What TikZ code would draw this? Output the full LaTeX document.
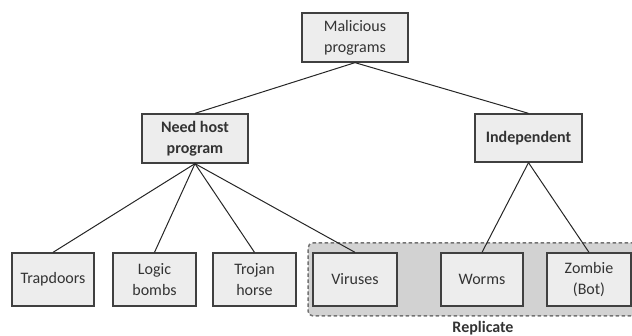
\documentclass[tikz,border=0pt]{standalone}
\usepackage{fontspec}
\setmainfont{Carlito}
\begin{document}
\begin{tikzpicture}[x=1pt,y=-1pt,
  box/.style={draw=black!75, fill=gray!14, line width=1.3pt, align=center, inner sep=1pt,
    font=\fontsize{16}{21}\selectfont, text=black!80},
  link/.style={draw=black!85, line width=1pt},
  region/.style={draw=black!55, fill=gray!35, dashed, dash pattern=on 3.5pt off 2.5pt, line width=1.5pt, rounded corners=5pt}]
\useasboundingbox (0,0) rectangle (632,336);
\node[region, minimum width=337pt, minimum height=73pt] (rep) at (476.5,279.5) {};
\node[box, minimum width=106pt, minimum height=49pt] (mal) at (355,37.5) {Malicious\\programs};
\node[box, minimum width=106pt, minimum height=49pt, font=\fontsize{16}{21}\selectfont\bfseries] (need) at (195,138.5) {Need host\\program};
\node[box, minimum width=107pt, minimum height=48pt, font=\fontsize{16}{21}\selectfont\bfseries] (ind) at (528.5,138) {Independent};
\node[box, minimum width=82pt, minimum height=53pt] (trap) at (53,279.5) {Trapdoors};
\node[box, minimum width=83pt, minimum height=53pt] (logic) at (154.5,279.5) {Logic\\bombs};
\node[box, minimum width=83pt, minimum height=53pt] (troj) at (254.5,279.5) {Trojan\\horse};
\node[box, minimum width=84pt, minimum height=53pt] (vir) at (355,279.5) {Viruses};
\node[box, minimum width=82pt, minimum height=53pt] (worm) at (482,279.5) {Worms};
\node[box, minimum width=84pt, minimum height=53pt] (zomb) at (589,279.5) {Zombie\\(Bot)};
\node[font=\fontsize{16}{18}\selectfont\bfseries, text=black!80] (replab) at (483,328) {Replicate};
\draw[link] (mal.south) -- (need.north);
\draw[link] (mal.south) -- (ind.north);
\draw[link] (need.south) -- (trap.north);
\draw[link] (need.south) -- (logic.north);
\draw[link] (need.south) -- (troj.north);
\draw[link] (need.south) -- (vir.north);
\draw[link] (ind.south) -- (worm.north);
\draw[link] (ind.south) -- (zomb.north);
\end{tikzpicture}
\end{document}
